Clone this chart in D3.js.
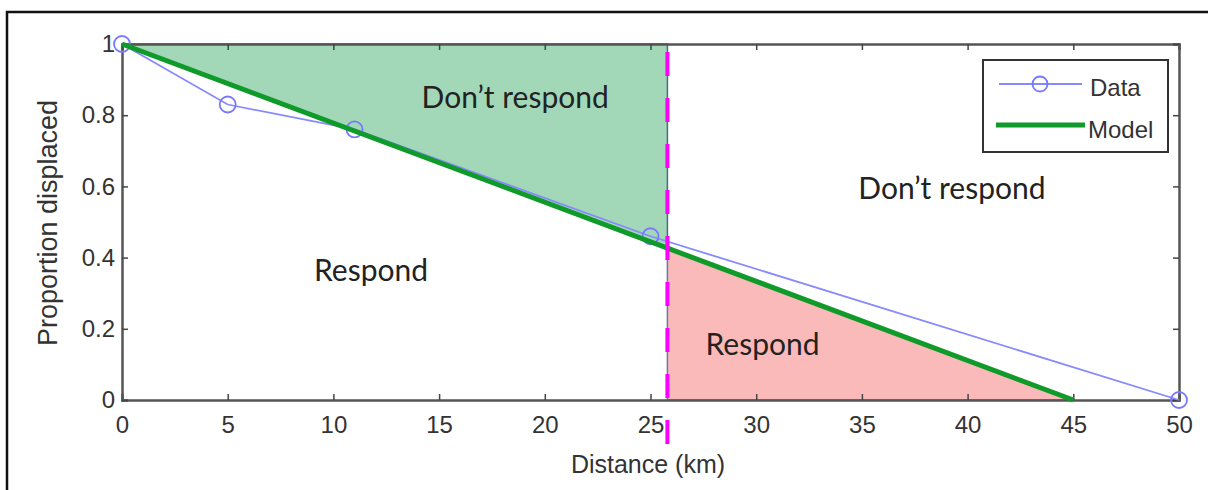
<!DOCTYPE html>
<html>
<head>
<meta charset="utf-8">
<script src="https://cdn.jsdelivr.net/npm/d3@7"></script>
<style>
  body { margin: 0; background: #fff; }
  text { font-family: "Liberation Sans", Arial, sans-serif; }
  .tick text { fill: #333; font-size: 24px; }
  .region { font-family: Lato, "Open Sans", sans-serif; font-size: 30px; fill: #222; }
</style>
</head>
<body>
<div id="chart"></div>
<script>
// data
var distance = [0, 5, 11, 25, 50];
var displaced = [1, 0.83, 0.76, 0.46, 0];
var modelX = [0, 45];
var modelY = [1, 0];
var cutoff = 25.8;
var xTicks = [0, 5, 10, 15, 20, 25, 30, 35, 40, 45, 50];
var yTicks = [0, 0.2, 0.4, 0.6, 0.8, 1];

var svgWidth = 1208;
var svgHeight = 490;

var margin = { top: 44, right: 29, bottom: 90, left: 122 };
var width = svgWidth - margin.left - margin.right;
var height = svgHeight - margin.top - margin.bottom;

var svg = d3.select("#chart")
  .append("svg")
  .attr("width", svgWidth)
  .attr("height", svgHeight);

// outer frame
svg.append("rect")
  .attr("x", 7).attr("y", 12)
  .attr("width", 1220).attr("height", 500)
  .attr("fill", "none")
  .attr("stroke", "#111")
  .attr("stroke-width", 2.5);

var g = svg.append("g")
  .attr("transform", `translate(${margin.left}, ${margin.top})`);

var x = d3.scaleLinear().domain([0, 50]).range([0, width]);
var y = d3.scaleLinear().domain([0, 1]).range([height, 0]);

function model(d) {
  return modelY[0] + (d - modelX[0]) * (modelY[1] - modelY[0]) / (modelX[1] - modelX[0]);
}

// shaded regions
var greenPts = [[0, 1], [cutoff, 1], [cutoff, model(cutoff)]];
var redPts = [[cutoff, model(cutoff)], [modelX[1], 0], [cutoff, 0]];
var area = d3.line().x(d => x(d[0])).y(d => y(d[1]));

g.append("path")
  .attr("d", area(greenPts) + "Z")
  .attr("fill", "#a2d8b8")
  .attr("stroke", "#4a6a88")
  .attr("stroke-width", 1.5);

g.append("path")
  .attr("d", area(redPts) + "Z")
  .attr("fill", "#fbbaba")
  .attr("stroke", "#6a7aa8")
  .attr("stroke-width", 1.5);

// axes box with inward ticks
var bottomAxis = d3.axisBottom(x).tickValues(xTicks).tickSize(-6).tickPadding(16).tickFormat(d3.format("d"));
var leftAxis = d3.axisLeft(y).tickValues(yTicks).tickSize(-6).tickPadding(7).tickFormat(d => d === 0 || d === 1 ? d : d3.format(".1f")(d));

var xAxis = g.append("g")
  .attr("transform", `translate(0, ${height})`)
  .call(bottomAxis);
var yAxis = g.append("g").call(leftAxis);
var topAxis = g.append("g").call(d3.axisTop(x).tickValues(xTicks).tickSize(-6).tickFormat(""));
var rightAxis = g.append("g")
  .attr("transform", `translate(${width}, 0)`)
  .call(d3.axisRight(y).tickValues(yTicks).tickSize(-6).tickFormat(""));

[xAxis, yAxis, topAxis, rightAxis].forEach(a => {
  a.select(".domain").attr("stroke", "#555").attr("stroke-width", 2.5);
  a.selectAll(".tick line").attr("stroke", "#444").attr("stroke-width", 1.5);
});

// data line
var line = d3.line().x((d, i) => x(distance[i])).y(d => y(d));
g.append("path")
  .datum(displaced)
  .attr("d", line)
  .attr("fill", "none")
  .attr("stroke", "#8888ff")
  .attr("stroke-width", 1.8);

g.selectAll(".pt")
  .data(displaced)
  .enter()
  .append("circle")
  .attr("cx", (d, i) => x(distance[i]))
  .attr("cy", d => y(d))
  .attr("r", 8)
  .attr("fill", "none")
  .attr("stroke", "#7878ff")
  .attr("stroke-width", 1.8);

// model line
g.append("path")
  .datum(modelX)
  .attr("d", d3.line().x(d => x(d)).y(d => y(model(d))))
  .attr("stroke", "#0f9a2a")
  .attr("stroke-width", 5);

// cutoff line
g.append("line")
  .attr("x1", x(cutoff)).attr("x2", x(cutoff))
  .attr("y1", 0).attr("y2", height + 44)
  .attr("stroke", "#ff00ff")
  .attr("stroke-width", 4)
  .attr("stroke-dasharray", "24,22")
  .attr("stroke-dashoffset", 38);

// region labels
g.append("text").attr("class", "region").attr("x", x(18.6)).attr("y", y(0.82)).attr("text-anchor", "middle").text("Don’t respond");
g.append("text").attr("class", "region").attr("x", x(39.26)).attr("y", y(0.565)).attr("text-anchor", "middle").text("Don’t respond");
g.append("text").attr("class", "region").attr("x", x(11.78)).attr("y", y(0.335)).attr("text-anchor", "middle").text("Respond");
g.append("text").attr("class", "region").attr("x", x(30.3)).attr("y", y(0.127)).attr("text-anchor", "middle").text("Respond");

// legend
var legend = svg.append("g").attr("transform", "translate(983, 60)");
legend.append("rect")
  .attr("width", 185).attr("height", 92)
  .attr("fill", "#fff")
  .attr("stroke", "#333")
  .attr("stroke-width", 2);
legend.append("line").attr("x1", 16).attr("x2", 99).attr("y1", 24).attr("y2", 24).attr("stroke", "#8888ff").attr("stroke-width", 1.8);
legend.append("circle").attr("cx", 57).attr("cy", 24).attr("r", 7.5).attr("fill", "none").attr("stroke", "#7878ff").attr("stroke-width", 1.8);
legend.append("line").attr("x1", 13).attr("x2", 102).attr("y1", 65).attr("y2", 65).attr("stroke", "#0f9a2a").attr("stroke-width", 5);
legend.append("text").attr("x", 107).attr("y", 36).attr("font-size", 24).attr("fill", "#333").text("Data");
legend.append("text").attr("x", 105).attr("y", 78).attr("font-size", 24).attr("fill", "#333").text("Model");

// axis titles
svg.append("text")
  .attr("x", 648)
  .attr("y", 473)
  .attr("text-anchor", "middle")
  .attr("font-size", 25)
  .attr("fill", "#333")
  .text("Distance (km)");

svg.append("text")
  .attr("transform", "translate(57, 223) rotate(-90)")
  .attr("text-anchor", "middle")
  .attr("font-size", 27)
  .attr("fill", "#333")
  .text("Proportion displaced");
</script>
</body>
</html>
